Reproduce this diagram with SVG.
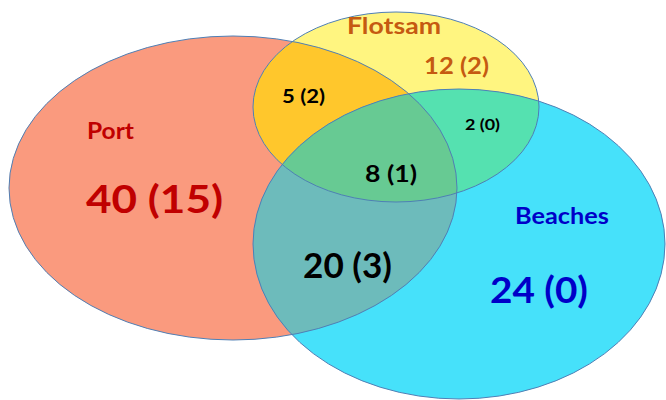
<svg xmlns="http://www.w3.org/2000/svg" width="666" height="400" viewBox="0 0 666 400">
  <style>
    .edge { fill: none; stroke: #4f7fb5; stroke-width: 1; }
    text { font-family: Lato, "Open Sans", "Liberation Sans", sans-serif; font-weight: bold; }
    .port { fill: #c00000; }
    .flot { fill: #c55a11; }
    .beach { fill: #0000c8; }
    .dark { fill: #000000; }
  </style>
  <defs>
    <ellipse id="portShape" cx="233" cy="188" rx="224" ry="152"/>
    <ellipse id="flotShape" cx="396" cy="107" rx="143" ry="95"/>
    <ellipse id="beachShape" cx="459" cy="244" rx="206" ry="155"/>
    <clipPath id="clipPort"><use href="#portShape"/></clipPath>
    <clipPath id="clipFlot"><use href="#flotShape"/></clipPath>
  </defs>

  <rect width="666" height="400" fill="#ffffff"/>

  <!-- base sets -->
  <g id="set-port"><use href="#portShape" fill="#fa9a7e"/></g>
  <g id="set-flotsam"><use href="#flotShape" fill="#fff580"/></g>
  <g id="set-beaches"><use href="#beachShape" fill="#46e1fa"/></g>

  <!-- overlaps -->
  <g id="overlaps">
    <use href="#flotShape" fill="#ffc72c" clip-path="url(#clipPort)"/>
    <use href="#beachShape" fill="#6dbbbb" clip-path="url(#clipPort)"/>
    <use href="#beachShape" fill="#55e1b0" clip-path="url(#clipFlot)"/>
    <g clip-path="url(#clipPort)">
      <use href="#beachShape" fill="#67ca93" clip-path="url(#clipFlot)"/>
    </g>
  </g>

  <!-- outlines -->
  <g id="outlines">
    <use href="#portShape" class="edge"/>
    <use href="#flotShape" class="edge"/>
    <use href="#beachShape" class="edge"/>
  </g>

  <!-- labels -->
  <g id="labels">
    <text class="port" x="87" y="139" font-size="22" textLength="47" lengthAdjust="spacingAndGlyphs">Port</text>
    <text class="port" x="86" y="213" font-size="37.5" textLength="137" lengthAdjust="spacingAndGlyphs">40 (15)</text>
    <text class="flot" x="347" y="34" font-size="23.5" textLength="94" lengthAdjust="spacingAndGlyphs">Flotsam</text>
    <text class="flot" x="424" y="74" font-size="23.5" textLength="65" lengthAdjust="spacingAndGlyphs">12 (2)</text>
    <text class="beach" x="515" y="224" font-size="22" textLength="94" lengthAdjust="spacingAndGlyphs">Beaches</text>
    <text class="beach" x="490" y="303" font-size="36" textLength="98" lengthAdjust="spacingAndGlyphs">24 (0)</text>
    <text class="dark" x="282" y="103" font-size="18" textLength="43" lengthAdjust="spacingAndGlyphs">5 (2)</text>
    <text class="dark" x="465" y="130" font-size="15" textLength="35" lengthAdjust="spacingAndGlyphs">2 (0)</text>
    <text class="dark" x="365" y="182" font-size="22" textLength="52" lengthAdjust="spacingAndGlyphs">8 (1)</text>
    <text class="dark" x="303" y="278" font-size="35" textLength="89" lengthAdjust="spacingAndGlyphs">20 (3)</text>
  </g>
</svg>
